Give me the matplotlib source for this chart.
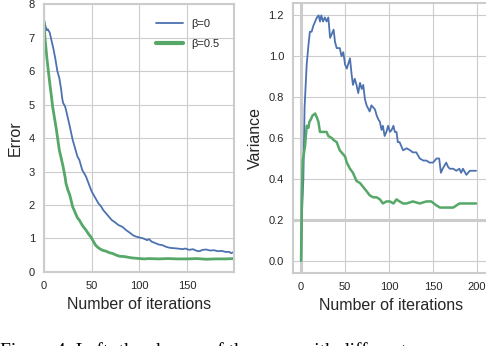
import matplotlib
matplotlib.use("Agg")
import matplotlib.pyplot as plt
import seaborn as sns

# ── datos ──────────────────────────────────────────────────────────────────
err_x_b0 = [0, 2, 3, 4, 6, 8, 10, 12, 14, 16, 18, 19, 20, 22, 23, 25, 27, 30,
            33, 35, 37, 40, 42, 44, 46, 48, 50, 52, 54, 57, 60, 62, 65, 68, 71,
            75, 78, 82, 86, 90, 93, 96, 100, 104, 108, 110, 113, 116, 120, 124,
            128, 132, 136, 140, 145, 148, 152, 156, 160, 163, 166, 170, 174,
            178, 182, 186, 190, 194, 196, 199]
err_y_b0 = [7.5, 7.3, 7.22, 7.25, 7.15, 6.9, 6.65, 6.35, 6.0, 5.8, 5.45, 5.2,
            5.05, 4.95, 4.85, 4.6, 4.35, 3.95, 3.65, 3.45, 3.35, 3.05, 2.95,
            2.85, 2.7, 2.55, 2.4, 2.3, 2.2, 2.05, 1.95, 1.85, 1.75, 1.65, 1.55,
            1.47, 1.4, 1.35, 1.25, 1.17, 1.1, 1.06, 1.03, 1.0, 0.95, 0.98, 0.9,
            0.87, 0.82, 0.8, 0.75, 0.72, 0.71, 0.7, 0.68, 0.7, 0.66, 0.68, 0.63,
            0.62, 0.66, 0.67, 0.64, 0.65, 0.62, 0.63, 0.6, 0.6, 0.56, 0.6]

err_x_b05 = [0, 1, 2, 3, 4, 5, 6, 8, 9, 11, 13, 15, 16, 18, 20, 22, 23, 25, 27,
             30, 33, 35, 37, 40, 42, 44, 47, 49, 52, 54, 57, 61, 65, 68, 72, 76,
             79, 84, 88, 92, 96, 100, 105, 110, 120, 130, 140, 150, 160, 170,
             180, 190, 199]
err_y_b05 = [7.5, 7.0, 6.7, 6.4, 6.15, 5.9, 5.65, 5.2, 4.95, 4.6, 4.25, 3.85,
             3.65, 3.4, 3.15, 2.85, 2.65, 2.45, 2.3, 1.95, 1.75, 1.62, 1.55, 1.4,
             1.32, 1.25, 1.12, 1.05, 0.9, 0.8, 0.72, 0.65, 0.62, 0.58, 0.55, 0.5,
             0.47, 0.46, 0.44, 0.42, 0.41, 0.4, 0.39, 0.4, 0.39, 0.4, 0.39, 0.39,
             0.4, 0.38, 0.39, 0.39, 0.4]

var_x_b0 = [0, 1, 2.6, 4, 6.4, 8.3, 10, 12, 14, 16, 18, 20, 21.5, 23, 25, 27,
            29, 31, 33, 35, 37, 38.6, 40.5, 44, 46, 48, 50, 52, 55.6, 57.5, 59,
            61, 63, 65, 67, 69, 70.7, 72.6, 74.5, 78, 80, 84, 86, 88, 89.6, 91.5,
            93, 95, 97, 99, 101, 103, 105, 106.6, 108.5, 110, 112, 114, 116, 120,
            124, 127, 131, 135, 139, 142.5, 146, 150, 154, 157, 159, 161, 165,
            167, 169, 173, 176.5, 180, 182, 184, 188, 191.7, 195.5, 199]
var_y_b0 = [0.0, 0.23, 0.40, 0.75, 0.96, 1.05, 1.12, 1.12, 1.15, 1.17, 1.19,
            1.2, 1.17, 1.2, 1.17, 1.19, 1.17, 1.19, 1.09, 1.11, 1.13, 1.07,
            1.04, 1.04, 1.0, 1.02, 0.96, 0.94, 0.99, 0.91, 0.86, 0.89, 0.86,
            0.82, 0.87, 0.84, 0.86, 0.79, 0.76, 0.73, 0.76, 0.74, 0.71, 0.69,
            0.68, 0.64, 0.66, 0.61, 0.63, 0.66, 0.63, 0.64, 0.66, 0.63, 0.63,
            0.58, 0.58, 0.56, 0.54, 0.55, 0.54, 0.53, 0.53, 0.50, 0.49, 0.49,
            0.48, 0.48, 0.50, 0.50, 0.43, 0.45, 0.48, 0.46, 0.45, 0.45, 0.44,
            0.45, 0.43, 0.45, 0.42, 0.44, 0.44, 0.44]

var_x_b05 = [0, 0.8, 1.9, 3.4, 4.5, 6.4, 8.3, 9.5, 11, 13, 16, 18, 19.7, 21.5,
             25, 29, 31, 35, 37, 40.5, 44, 46, 50, 52, 55.6, 59, 61, 63, 67,
             70.7, 74.5, 78, 82, 86, 89.6, 93, 97, 101, 105, 108.5, 112, 116,
             120, 127, 135, 142.5, 148, 154, 158, 165, 173, 180, 188, 195.5, 199]
var_y_b05 = [0.0, 0.30, 0.49, 0.53, 0.56, 0.66, 0.65, 0.68, 0.69, 0.71, 0.72,
             0.70, 0.68, 0.63, 0.63, 0.63, 0.61, 0.60, 0.59, 0.58, 0.54, 0.53,
             0.51, 0.48, 0.45, 0.43, 0.41, 0.39, 0.38, 0.36, 0.34, 0.32, 0.31,
             0.31, 0.30, 0.28, 0.29, 0.29, 0.28, 0.30, 0.29, 0.28, 0.28, 0.29,
             0.28, 0.29, 0.29, 0.27, 0.26, 0.26, 0.26, 0.28, 0.28, 0.28, 0.28]

labels = ["β=0", "β=0.5"]
BLUE = "#4C72B0"
GREEN = "#55A868"

sns.set_style("whitegrid")
plt.rcParams["font.family"] = ["Liberation Sans", "DejaVu Sans"]
plt.rcParams["axes.edgecolor"] = "#cccccc"
plt.rcParams["grid.color"] = "#cccccc"

fig = plt.figure(figsize=(4.86, 3.46), dpi=100)
ax1 = fig.add_axes([0.0905, 0.214, 0.391, 0.774])
ax2 = fig.add_axes([0.603, 0.211, 0.402, 0.780])

# ── izquierda: error ───────────────────────────────────────────────────────
ax1.plot(err_x_b0, err_y_b0, color=BLUE, lw=1.3, label=labels[0])
ax1.plot(err_x_b05, err_y_b05, color=GREEN, lw=2.0, label=labels[1])
ax1.set_xlim(0, 199)
ax1.set_ylim(0, 8)
ax1.set_xticks([0, 50, 100, 150])
ax1.set_yticks(range(0, 9))
ax1.set_xlabel("Number of iterations", fontsize=11.5, color="#262626")
ax1.set_ylabel("Error", fontsize=11.5, color="#262626")
leg = ax1.legend(loc="upper right", frameon=False, fontsize=8,
                 handlelength=2.4, borderaxespad=0.9, labelspacing=0.9)
leg.get_lines()[1].set_linewidth(3)

# ── derecha: varianza ──────────────────────────────────────────────────────
ax2.axhline(0.2, color="#cccccc", lw=2.2, zorder=0.5)
ax2.axvline(0, color="#cccccc", lw=2.2, zorder=0.5)
ax2.plot(var_x_b0, var_y_b0, color=BLUE, lw=1.3)
ax2.plot(var_x_b05, var_y_b05, color=GREEN, lw=1.8)
ax2.set_xlim(-9.1, 213)
ax2.set_xticks([0, 50, 100, 150, 200])
ax2.set_yticks([0.0, 0.2, 0.4, 0.6, 0.8, 1.0, 1.2])
ax2.yaxis.set_major_formatter(matplotlib.ticker.FormatStrFormatter("%.1f"))
ax2.set_xlabel("Number of iterations", fontsize=11.5, color="#262626")
ax2.set_ylabel("Variance", fontsize=11.5, color="#262626")

for ax in (ax1, ax2):
    ax.tick_params(labelsize=8, colors="#262626", pad=3)
    for sp in ax.spines.values():
        sp.set_linewidth(1.5)

# pie de figura, cortado por el borde inferior como en la referencia
fig.text(0.0, 1 - 342 / 346, "Figure 4: Left: the change of the error with different",
         family=["Liberation Serif", "DejaVu Serif"], fontsize=14, va="top",
         ha="left", color="black")

fig.savefig("out.png", dpi=100)
